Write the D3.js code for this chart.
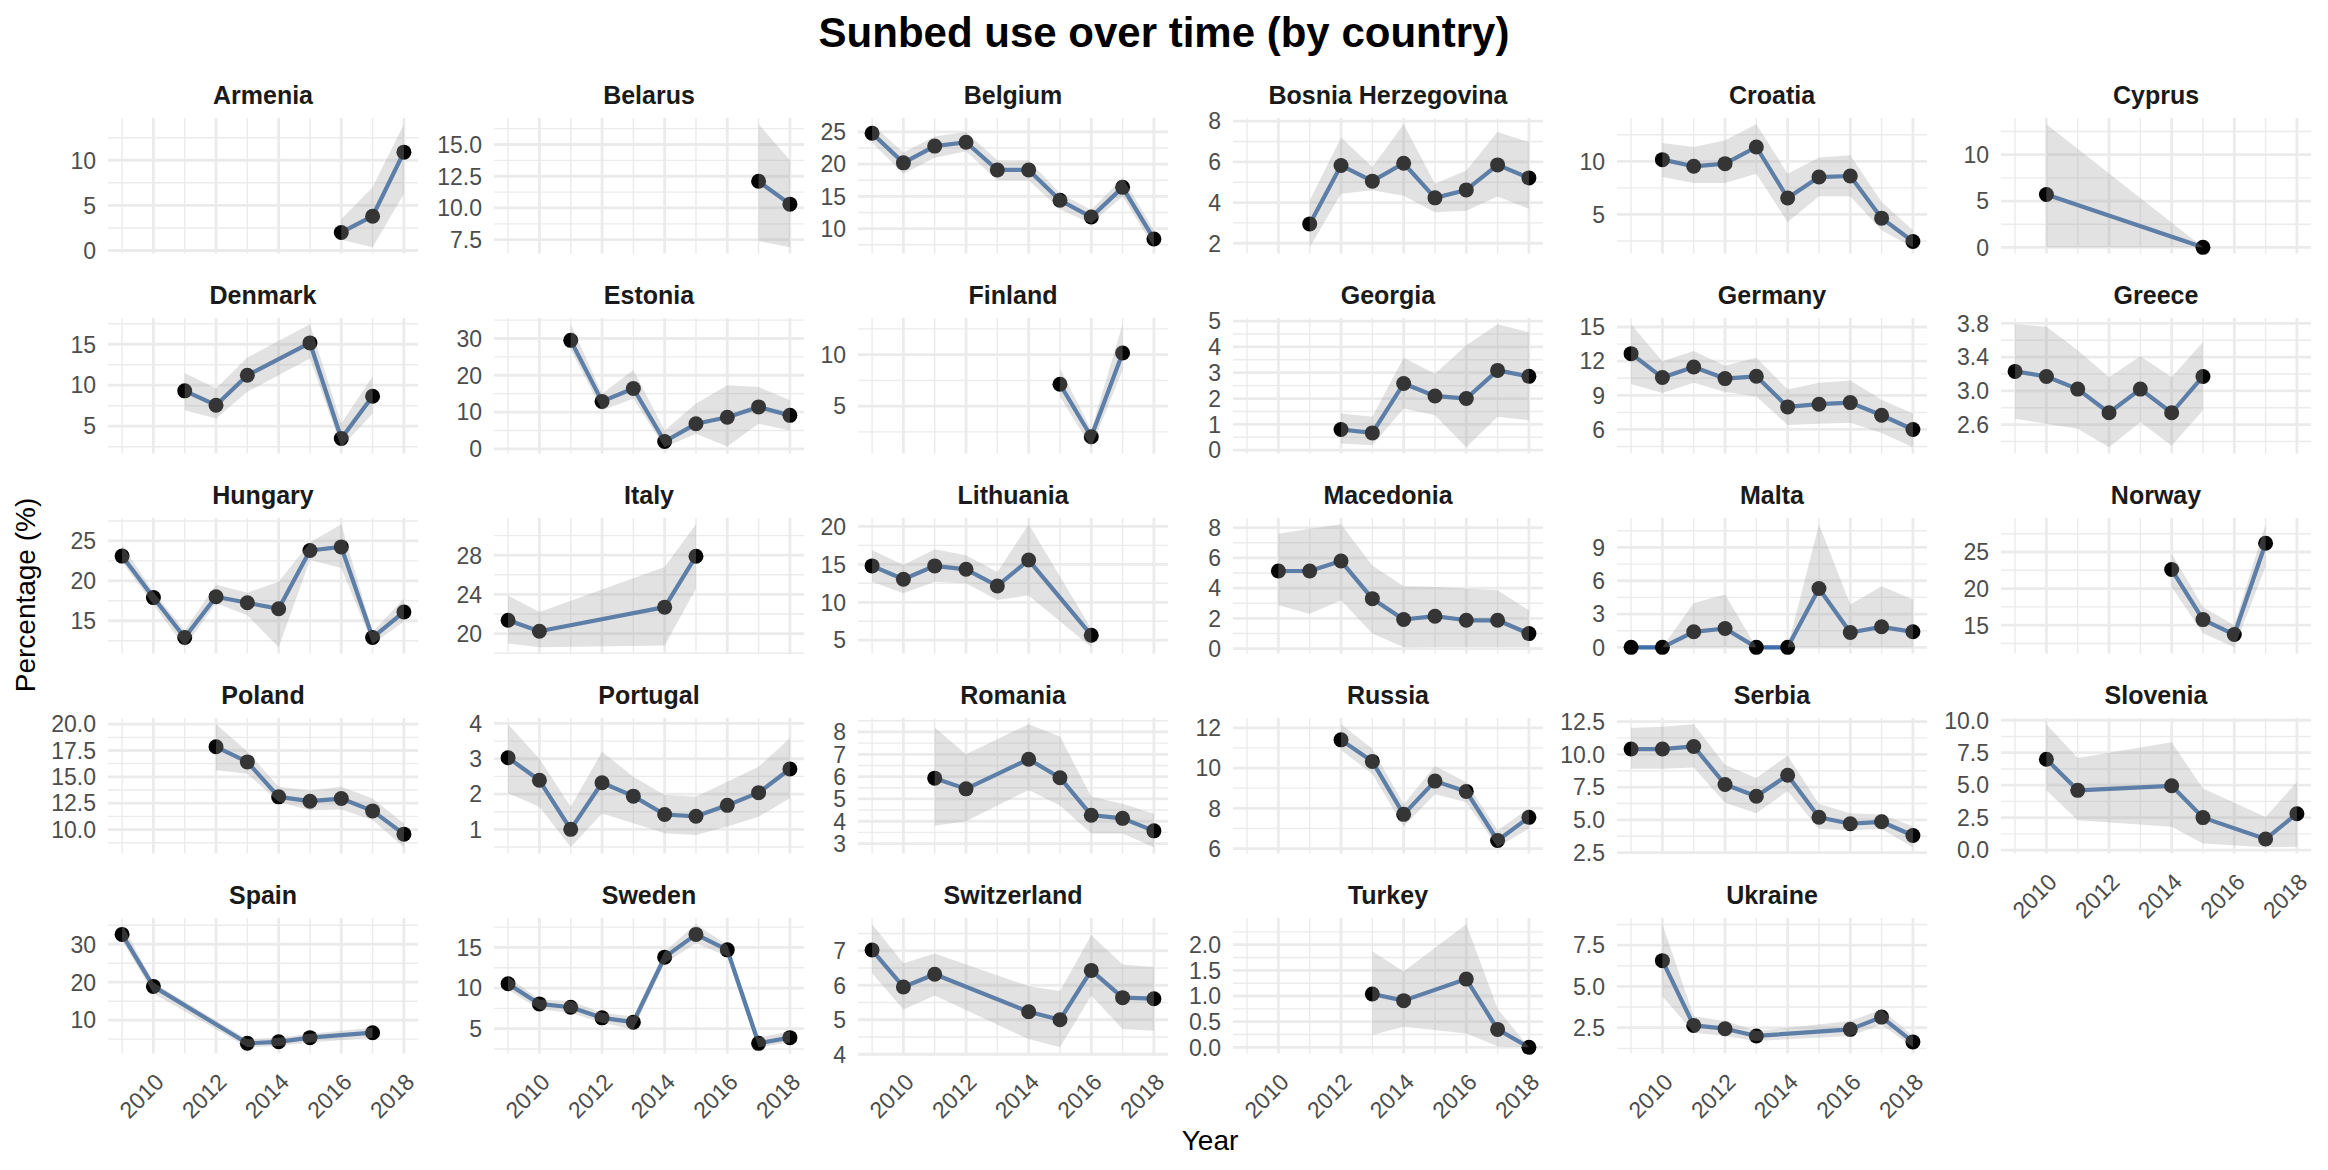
<!DOCTYPE html>
<html><head><meta charset="utf-8">
<script src="https://cdn.jsdelivr.net/npm/d3@7"></script>
<style>body{margin:0;background:#fff} svg{display:block} text{font-family:"Liberation Sans", Arial, Helvetica, sans-serif}</style>
</head><body><svg id="chart" width="2328" height="1170"></svg>
<script>
const chartTitle = "Sunbed use over time (by country)";
const xTitle = "Year";
const yTitle = "Percentage (%)";
const countries = ["Armenia","Belarus","Belgium","Bosnia Herzegovina","Croatia","Cyprus",
  "Denmark","Estonia","Finland","Georgia","Germany","Greece",
  "Hungary","Italy","Lithuania","Macedonia","Malta","Norway",
  "Poland","Portugal","Romania","Russia","Serbia","Slovenia",
  "Spain","Sweden","Switzerland","Turkey","Ukraine"];
const Y10 = [2009,2010,2011,2012,2013,2014,2015,2016,2017,2018];
const years = [
  [2016,2017,2018],
  [2017,2018],
  Y10,
  [2011,2012,2013,2014,2015,2016,2017,2018],
  [2010,2011,2012,2013,2014,2015,2016,2017,2018],
  [2010,2015],
  [2011,2012,2013,2015,2016,2017],
  [2011,2012,2013,2014,2015,2016,2017,2018],
  [2015,2016,2017],
  [2012,2013,2014,2015,2016,2017,2018],
  Y10,
  [2009,2010,2011,2012,2013,2014,2015],
  Y10,
  [2009,2010,2014,2015],
  [2009,2010,2011,2012,2013,2014,2016],
  [2010,2011,2012,2013,2014,2015,2016,2017,2018],
  Y10,
  [2014,2015,2016,2017],
  [2012,2013,2014,2015,2016,2017,2018],
  Y10,
  [2011,2012,2014,2015,2016,2017,2018],
  [2012,2013,2014,2015,2016,2017,2018],
  Y10,
  [2010,2011,2014,2015,2017,2018],
  [2009,2010,2013,2014,2015,2017],
  Y10,
  [2009,2010,2011,2014,2015,2016,2017,2018],
  [2013,2014,2016,2017,2018],
  [2010,2011,2012,2013,2016,2017,2018]
];
const values = [
  [2.0,3.8,10.9],
  [12.1,10.3],
  [24.8,20.2,22.8,23.4,19.1,19.1,14.4,11.8,16.4,8.4],
  [2.95,5.82,5.05,5.93,4.23,4.62,5.85,5.21],
  [10.16,9.53,9.78,11.35,6.54,8.52,8.62,4.65,2.45],
  [5.7,0],
  [9.31,7.56,11.22,15.16,3.5,8.66],
  [29.5,12.9,16.4,2.0,6.8,8.6,11.4,9.1],
  [7.13,2.03,10.16],
  [0.8,0.67,2.58,2.1,2.0,3.09,2.86],
  [12.66,10.56,11.49,10.47,10.67,7.98,8.22,8.36,7.25,6.0],
  [3.23,3.17,3.02,2.74,3.02,2.74,3.17],
  [23.1,17.9,12.9,18.0,17.25,16.5,23.8,24.25,12.9,16.1],
  [21.36,20.24,22.7,27.9],
  [14.8,13.03,14.8,14.35,12.15,15.57,5.66],
  [5.13,5.13,5.79,3.30,1.92,2.14,1.87,1.87,0.99],
  [0,0,1.4,1.7,0,0,5.3,1.34,1.85,1.4],
  [22.6,15.77,13.73,26.2],
  [17.85,16.42,13.1,12.69,12.94,11.77,9.56],
  [3.03,2.39,1.0,2.32,1.94,1.42,1.37,1.68,2.04,2.71],
  [5.93,5.45,6.78,5.95,4.27,4.13,3.57],
  [11.4,10.33,7.7,9.35,8.84,6.4,7.55],
  [10.4,10.4,10.6,7.7,6.8,8.4,5.2,4.7,4.85,3.8],
  [7.0,4.6,4.95,2.5,0.85,2.8],
  [32.6,18.9,3.9,4.3,5.4,6.7],
  [10.53,8.05,7.64,6.34,5.81,13.8,16.6,14.7,3.2,3.9],
  [7.02,5.95,6.32,5.23,5.0,6.43,5.64,5.61],
  [1.04,0.91,1.33,0.35,0],
  [6.56,2.64,2.44,2.0,2.4,3.14,1.64]
];
const lower = [
  [1.2,0.35,6.3],
  [7.4,6.9],
  [23.3,18.5,21.0,22.0,17.5,17.5,13.0,10.8,15.0,7.1],
  [1.8,4.43,4.6,4.34,3.52,3.6,4.3,3.69],
  [8.52,7.96,7.96,8.84,4.28,6.7,6.7,3.5,1.9],
  [0,0],
  [6.95,5.93,9.2,13.25,2.42,6.54],
  [27.0,10.5,13.6,0.4,4.1,0.6,6.8,5.0],
  [5.9,1.0,8.5],
  [0.26,0.19,1.61,1.35,0.11,1.29,1.16],
  [10.0,9.2,10.1,9.3,8.9,6.4,6.5,6.6,5.7,4.43],
  [2.67,2.61,2.55,2.33,2.63,2.35,2.77],
  [22.4,17.0,11.75,17.2,15.7,11.67,22.6,21.6,12.1,14.9],
  [19.0,18.6,18.8,24.6],
  [12.7,11.2,12.7,12.5,10.3,10.9,4.06],
  [2.86,2.31,3.19,0.99,0.08,0.1,0.1,0.1,0.1],
  [0,0,0,0,0,0,0,0,0,0],
  [20.2,13.9,11.98,23.0],
  [15.63,15.3,12.63,11.83,11.9,10.9,8.31],
  [2.02,1.64,0.49,1.45,1.17,0.89,0.84,1.08,1.36,1.88],
  [3.8,4.0,5.4,4.7,3.45,3.45,2.83],
  [10.9,9.7,7.1,8.7,8.3,6.06,7.0],
  [8.9,8.9,9.0,6.3,5.5,7.2,4.3,4.2,4.3,2.9],
  [4.6,2.3,1.8,0.5,0.21,0.25],
  [31.0,17.1,2.84,3.2,4.1,5.4],
  [9.8,7.36,6.95,5.73,4.9,13.05,15.5,13.9,2.71,3.3],
  [6.35,5.3,5.7,4.44,4.2,5.7,4.73,4.68],
  [0.24,0.4,0.27,0.02,0],
  [4.4,2.2,2.0,1.7,2.0,2.7,1.31]
];
const upper = [
  [3.5,7.0,14.0],
  [16.6,13.75],
  [26.2,21.8,24.3,25.0,20.6,20.6,15.5,12.9,17.9,9.8],
  [4.1,7.2,5.74,7.85,4.92,5.57,7.46,6.97],
  [11.73,11.35,11.98,13.5,8.84,10.35,10.57,6.16,3.5],
  [13.3,0],
  [11.5,9.6,13.37,17.45,5.33,11.1],
  [33.9,15.0,21.4,5.0,12.3,17.3,16.8,13.2],
  [8.65,2.68,12.96],
  [1.42,1.29,3.58,2.96,4.06,4.88,4.57],
  [15.25,12.0,12.9,11.6,12.3,9.5,10.1,10.3,8.6,7.4],
  [3.79,3.76,3.48,3.16,3.41,3.16,3.58],
  [24.5,18.6,13.8,19.5,18.5,19.9,24.8,27.1,13.6,17.8],
  [23.9,22.2,26.8,31.17],
  [16.9,14.9,17.0,16.2,14.0,20.3,6.5],
  [7.6,7.93,8.23,5.5,4.12,4.07,3.96,3.85,2.53],
  [0,0,4.0,4.76,0,0,11.1,3.87,5.5,4.3],
  [24.8,17.5,15.0,28.8],
  [20.0,17.4,14.05,13.7,14.05,12.94,10.57],
  [3.98,3.0,1.64,3.2,2.49,1.97,1.92,2.35,2.77,3.58],
  [8.2,7.0,8.35,7.8,5.1,4.78,4.33],
  [12.18,10.96,8.2,10.1,9.3,6.9,8.0],
  [12.0,12.1,12.3,9.2,8.2,9.9,6.2,5.5,5.4,4.5],
  [9.7,7.1,8.3,4.75,2.55,5.25],
  [35.3,19.9,4.96,5.4,6.4,8.0],
  [11.4,8.6,8.4,6.95,6.5,14.5,17.86,15.3,3.9,4.7],
  [7.77,6.64,6.92,5.97,5.83,7.45,6.6,6.53],
  [1.87,1.48,2.40,0.75,0],
  [8.77,3.2,2.9,2.3,2.9,3.6,2.0]
];
const yTicks = [
  [0,5,10],[7.5,10,12.5,15],[10,15,20,25],[2,4,6,8],[5,10],[0,5,10],
  [5,10,15],[0,10,20,30],[5,10],[0,1,2,3,4,5],[6,9,12,15],[2.6,3.0,3.4,3.8],
  [15,20,25],[20,24,28],[5,10,15,20],[0,2,4,6,8],[0,3,6,9],[15,20,25],
  [10,12.5,15,17.5,20],[1,2,3,4],[3,4,5,6,7,8],[6,8,10,12],[2.5,5,7.5,10,12.5],[0,2.5,5,7.5,10],
  [10,20,30],[5,10,15],[4,5,6,7],[0,0.5,1,1.5,2],[2.5,5,7.5]
];
const yDecimals = [0,1,0,0,0,0, 0,0,0,0,0,1, 0,0,0,0,0,0, 1,0,0,0,1,1, 0,0,0,1,1];
const xTicks = [2010,2012,2014,2016,2018];

// ---- layout ----
const NCOL = 6;
const colLeft = [108, 494, 858, 1233, 1617, 2001];
const rowTop = [118, 318, 518, 718, 918];
const panelW = 310, panelH = 135.5;
const gridCol = "#EBEBEB";
const lineCol = "#3F6FA8";

const svg = d3.select("#chart");
svg.append("rect").attr("width",2328).attr("height",1170).attr("fill","#fff");

svg.append("text").attr("x",1164).attr("y",47).attr("text-anchor","middle")
  .attr("font-size",42).attr("font-weight","bold").attr("fill","#000").text(chartTitle);
svg.append("text").attr("x",1210).attr("y",1150).attr("text-anchor","middle")
  .attr("font-size",28).attr("fill","#000").text(xTitle);
svg.append("text").attr("transform","translate(35,595) rotate(-90)").attr("text-anchor","middle")
  .attr("font-size",28).attr("fill","#000").text(yTitle);

const allYears = years.flat();
const [xa, xb] = d3.extent(allYears);
const xPad = (xb - xa) * 0.05;
const xMinor = d3.range(xa, xb + 1, 2).filter(v => !xTicks.includes(v));

countries.forEach((name, i) => {
  const col = i % NCOL, row = Math.floor(i / NCOL);
  const L = colLeft[col], T = rowTop[row];
  const x = d3.scaleLinear().domain([xa - xPad, xb + xPad]).range([L, L + panelW]);
  const ext = d3.extent(values[i].concat(lower[i], upper[i]));
  const yPad = (ext[1] - ext[0]) * 0.05;
  const y = d3.scaleLinear().domain([ext[0] - yPad, ext[1] + yPad]).range([T + panelH, T]);
  const g = svg.append("g");
  const ticks = yTicks[i];
  const step = ticks[1] - ticks[0];
  const [d0, d1] = y.domain();
  const yMinor = d3.range(-1, ticks.length).map(k => ticks[0] + (k + 0.5) * step).filter(v => v >= d0 && v <= d1);

  g.selectAll(".ymin").data(yMinor).join("line")
    .attr("x1", L).attr("x2", L + panelW).attr("y1", d => y(d)).attr("y2", d => y(d))
    .attr("stroke", gridCol).attr("stroke-width", 1.4);
  g.selectAll(".xmin").data(xMinor).join("line")
    .attr("y1", T).attr("y2", T + panelH).attr("x1", d => x(d)).attr("x2", d => x(d))
    .attr("stroke", gridCol).attr("stroke-width", 1.4);
  g.selectAll(".ymaj").data(ticks).join("line")
    .attr("x1", L).attr("x2", L + panelW).attr("y1", d => y(d)).attr("y2", d => y(d))
    .attr("stroke", gridCol).attr("stroke-width", 2.8);
  g.selectAll(".xmaj").data(xTicks).join("line")
    .attr("y1", T).attr("y2", T + panelH).attr("x1", d => x(d)).attr("x2", d => x(d))
    .attr("stroke", gridCol).attr("stroke-width", 2.8);

  g.selectAll(".ylab").data(ticks).join("text")
    .attr("x", L - 12).attr("y", d => y(d)).attr("dy", "0.36em")
    .attr("text-anchor", "end").attr("font-size", 23).attr("fill", "#4D4D4D")
    .text(d => d.toFixed(yDecimals[i]));

  g.append("text").attr("x", L + panelW / 2).attr("y", T - 14).attr("text-anchor", "middle")
    .attr("font-size", 25).attr("font-weight", "bold").attr("fill", "#1A1A1A").text(name);

  if (i + NCOL >= countries.length) {
    g.selectAll(".xlab").data(xTicks).join("text")
      .attr("transform", d => `translate(${x(d) + 12},${T + panelH + 30}) rotate(-45)`)
      .attr("text-anchor", "end").attr("font-size", 23).attr("fill", "#4D4D4D")
      .text(d => d);
  }

  const pts = years[i].map((yr, k) => ({yr, v: values[i][k], lo: lower[i][k], hi: upper[i][k]}));
  const line = d3.line().x(d => x(d.yr)).y(d => y(d.v));
  g.append("path").datum(pts).attr("d", line).attr("fill", "none")
    .attr("stroke", lineCol).attr("stroke-width", 4.2).attr("stroke-linejoin", "round");
  g.selectAll(".pt").data(pts).join("circle")
    .attr("cx", d => x(d.yr)).attr("cy", d => y(d.v)).attr("r", 7.5)
    .attr("fill", "#050505");
  const area = d3.area().x(d => x(d.yr)).y0(d => y(d.lo)).y1(d => y(d.hi));
  g.append("path").datum(pts).attr("d", area).attr("fill", "#A2A2A2").attr("fill-opacity", 0.31);
});
</script></body></html>
